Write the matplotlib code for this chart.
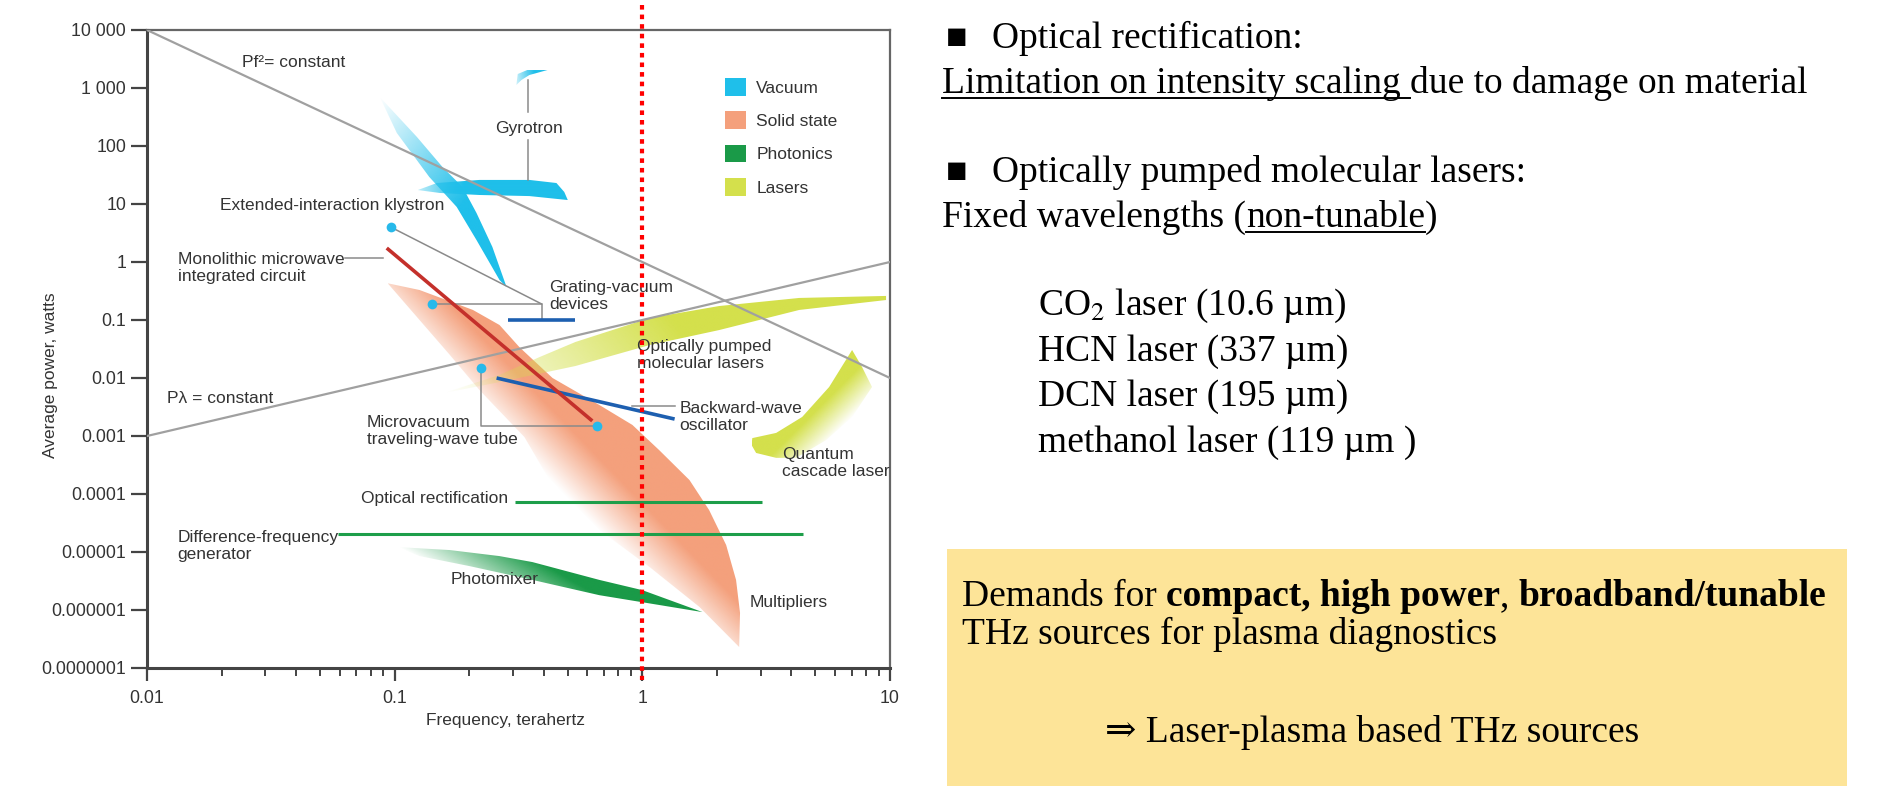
import numpy as np
import matplotlib
matplotlib.use("Agg")
import matplotlib.pyplot as plt
from matplotlib.patches import Polygon, Patch, Rectangle
from matplotlib.lines import Line2D
from matplotlib.colors import to_rgb
from matplotlib.ticker import LogLocator, NullFormatter, NullLocator

plt.rcParams['font.family'] = ['Liberation Sans', 'DejaVu Sans']
plt.rcParams['mathtext.fontset'] = 'stix'

# ---- axis ticks
xtick_vals = [0.01, 0.1, 1, 10]
xtick_labels = ["0.01", "0.1", "1", "10"]
ytick_vals = [1e4, 1e3, 1e2, 1e1, 1, 0.1, 0.01, 1e-3, 1e-4, 1e-5, 1e-6, 1e-7]
ytick_labels = ["10 000", "1 000", "100", "10", "1", "0.1", "0.01", "0.001",
                "0.0001", "0.00001", "0.000001", "0.0000001"]

# ---- reference lines (frequency THz, power W)
pf2_f = [0.01, 10]
pf2_p = [10000, 0.01]
plam_f = [0.01, 10]
plam_p = [0.001, 1]

# ---- source regions (polygons)
gyro_f = [0.124, 0.148, 0.220, 0.350, 0.450, 0.484, 0.500, 0.350, 0.220, 0.152]
gyro_p = [17.4, 23, 26, 26, 23, 16.1, 11.7, 13.7, 14.3, 15.5]
gyro_top_f = [0.310, 0.314, 0.343, 0.414, 0.350, 0.325]
gyro_top_p = [1127, 1742, 2042, 2042, 1675, 1374]
blade_f = [0.0871, 0.123, 0.156, 0.188, 0.214, 0.248, 0.283, 0.265, 0.214, 0.178, 0.138, 0.102]
blade_p = [700, 143, 43.4, 19.6, 7.0, 1.82, 0.37, 0.49, 2.39, 8.9, 29.2, 168]
ss_f = [0.0937, 0.126, 0.207, 0.265, 0.319, 0.434, 0.671, 0.912, 1.17, 1.55, 1.86, 2.18,
        2.39, 2.48, 2.46, 1.70, 1.07, 0.671, 0.422, 0.334, 0.220, 0.167, 0.126]
ss_p = [0.43, 0.329, 0.149, 0.082, 0.034, 0.01, 0.00342, 0.00155, 5.7e-4, 1.74e-4, 5.3e-5,
        1.32e-5, 3.3e-6, 8.9e-7, 2.3e-7, 1.13e-6, 5.5e-6, 2.4e-5, 1.74e-4, 9.6e-4, 0.0062, 0.025, 0.1]
pm_f = [0.102, 0.167, 0.265, 0.360, 0.671, 1.0, 1.75, 1.17, 0.671, 0.360, 0.201, 0.126]
pm_p = [1.22e-5, 1.08e-5, 8.5e-6, 6.7e-6, 3.3e-6, 2.2e-6, 9.2e-7, 1.22e-6, 1.8e-6, 3.3e-6, 5.7e-6, 8.5e-6]
opml_f = [0.158, 0.265, 0.385, 0.537, 1.07, 2.04, 4.30, 9.64, 9.64, 4.30, 2.04, 1.07, 0.537, 0.265]
opml_p = [0.0055, 0.0113, 0.023, 0.0418, 0.108, 0.174, 0.24, 0.26, 0.221, 0.149, 0.067, 0.037, 0.0161, 0.0085]
qcl_f = [7.03, 7.71, 8.46, 7.03, 5.52, 4.18, 3.47, 2.88, 2.76, 2.78, 3.47, 4.42, 5.68]
qcl_p = [0.0304, 0.0155, 0.0070, 0.00213, 8.5e-4, 4.2e-4, 4.2e-4, 5.1e-4, 7.0e-4, 9.2e-4, 0.00113, 0.00213, 0.0070]

# ---- device lines
mmic_f = [0.0929, 0.628]
mmic_p = [1.74, 0.00182]
bwo_f = [0.258, 1.35]
bwo_p = [0.01, 0.00196]
grating_f = [0.286, 0.537]
grating_p = [0.1, 0.1]
optrect_f = [0.305, 3.05]
optrect_p = [7.3e-5, 7.3e-5]
dfg_f = [0.0589, 4.46]
dfg_p = [2.04e-5, 2.04e-5]
dot_f = [0.0964, 0.141, 0.224, 0.659]
dot_p = [4.0, 0.189, 0.0149, 0.00149]
redline_f = [1, 1]
redline_p = [2.7e4, 6.2e-8]

# leader lines
leaders = [
    ([0.0964, 0.392], [4.0, 0.189]),
    ([0.141, 0.392, 0.392], [0.189, 0.189, 0.1]),
    ([0.0628, 0.0895], [1.17, 1.17]),
    ([0.224, 0.224, 0.659], [0.0149, 0.00149, 0.00149]),
    ([0.912, 1.35], [0.0033, 0.0033]),
    ([0.347, 0.347], [1374, 385]),
    ([0.347, 0.347], [127, 26]),
]

labels = [
    ("Pf²= constant", 0.0242, 2700, 'left'),
    ("Pλ = constant", 0.01204, 0.00452, 'left'),
    ("Gyrotron", 0.35, 204, 'center'),
    ("Extended-interaction klystron", 0.0197, 9.6, 'left'),
    ("Monolithic microwave\nintegrated circuit", 0.0133, 0.79, 'left'),
    ("Grating-vacuum\ndevices", 0.422, 0.26, 'left'),
    ("Optically pumped\nmolecular lasers", 0.955, 0.025, 'left'),
    ("Microvacuum\ntraveling-wave tube", 0.077, 0.00122, 'left'),
    ("Backward-wave\noscillator", 1.41, 0.00213, 'left'),
    ("Quantum\ncascade laser", 3.67, 3.4e-4, 'left'),
    ("Optical rectification", 0.286, 8.5e-5, 'right'),
    ("Difference-frequency\ngenerator", 0.0133, 1.27e-5, 'left'),
    ("Photomixer", 0.253, 3.3e-6, 'center'),
    ("Multipliers", 2.70, 1.37e-6, 'left'),
]

legend_names = ["Vacuum", "Solid state", "Photonics", "Lasers"]
legend_colors = ["#1fbfea", "#f4a07c", "#1a9a48", "#d4e04c"]
c_vac, c_ss, c_ph, c_las = legend_colors

W, H = 1883, 786
fig = plt.figure(figsize=(W / 100, H / 100), dpi=100)
ax = fig.add_axes([147 / W, 118 / H, 743 / W, 638 / H])
ax.set_xscale('log')
ax.set_yscale('log')
ax.set_xlim(0.01, 10)
ax.set_ylim(1e-7, 1e4)
ax.set_autoscale_on(False)


def shade(fs, ps, color, angle, a_lo=0.0, a_hi=1.0, reach=1.0, z=1):
    # polygon filled with an alpha ramp along a direction (degrees, screen space)
    verts = np.column_stack([fs, ps])
    patch = Polygon(verts, closed=True, fc='none', ec='none', transform=ax.transData)
    ax.add_patch(patch)
    pix = ax.transData.transform(verts)
    bb = ax.bbox
    x0, y0 = pix.min(0)
    x1, y1 = pix.max(0)
    gx, gy = np.meshgrid(np.linspace(x0, x1, 300), np.linspace(y0, y1, 300))
    d = np.array([np.cos(np.radians(angle)), np.sin(np.radians(angle))])
    proj = pix @ d
    t = (gx * d[0] + gy * d[1] - proj.min()) / (proj.max() - proj.min())
    a = a_lo + (a_hi - a_lo) * np.clip(t / reach, 0, 1)
    rgba = np.zeros((300, 300, 4))
    rgba[..., :3] = to_rgb(color)
    rgba[..., 3] = a
    ext = [(x0 - bb.x0) / bb.width, (x1 - bb.x0) / bb.width,
           (y0 - bb.y0) / bb.height, (y1 - bb.y0) / bb.height]
    im = ax.imshow(rgba, extent=ext, origin='lower', transform=ax.transAxes,
                   aspect='auto', interpolation='bilinear', zorder=z)
    im.set_clip_path(patch)


shade(ss_f, ss_p, c_ss, 44, reach=0.5, z=1)
shade(blade_f, blade_p, c_vac, -40, reach=0.6, z=1.2)
shade(gyro_f, gyro_p, c_vac, 0, a_lo=0.3, reach=0.3, z=1.3)
shade(gyro_top_f, gyro_top_p, c_vac, 10, a_lo=0.2, reach=0.6, z=1.3)
shade(opml_f, opml_p, c_las, 40, reach=0.55, z=1.1)
shade(qcl_f, qcl_p, c_las, 135, reach=0.55, z=1.1)
shade(pm_f, pm_p, c_ph, 60, reach=0.6, z=1.1)

ax.plot(pf2_f, pf2_p, color='#a0a0a0', lw=1.6, zorder=3)
ax.plot(plam_f, plam_p, color='#a0a0a0', lw=1.6, zorder=3)

for lf, lp in leaders:
    ax.plot(lf, lp, color='#8a8a8a', lw=1.1, zorder=4)

ax.plot(grating_f, grating_p, color='#1d5fb0', lw=2.6, solid_capstyle='butt', zorder=5)
ax.plot(bwo_f, bwo_p, color='#1d5fb0', lw=2.6, solid_capstyle='butt', zorder=5)
ax.plot(optrect_f, optrect_p, color='#1e9e4a', lw=2.2, solid_capstyle='butt', zorder=5)
ax.plot(dfg_f, dfg_p, color='#1e9e4a', lw=2.2, solid_capstyle='butt', zorder=5)
ax.plot(mmic_f, mmic_p, color='#c4302b', lw=2.6, solid_capstyle='butt', zorder=5.5)
ax.plot(dot_f, dot_p, 'o', color='#27b9ea', ms=7, mec='none', zorder=6)

for txt, f, p, ha in labels:
    ax.text(f, p, txt, ha=ha, va='center', fontsize=12.5, color='#333333',
            linespacing=1.15, zorder=7)

ax.plot(redline_f, redline_p, color='#ff0000', lw=3, ls=(0, (1.1, 1.2)),
        clip_on=False, zorder=10)

ax.legend([Patch(facecolor=c, edgecolor='none') for c in legend_colors], legend_names,
          loc='upper left', bbox_to_anchor=(0.778, 0.925), frameon=False, fontsize=12.5,
          handlelength=1.2, handleheight=1.2, handletextpad=0.6, labelspacing=0.9,
          borderaxespad=0, borderpad=0, labelcolor='#333333')

ax.set_xticks(xtick_vals, xtick_labels)
ax.xaxis.set_minor_locator(LogLocator(base=10, subs=range(2, 10)))
ax.xaxis.set_minor_formatter(NullFormatter())
ax.set_yticks(ytick_vals, ytick_labels)
ax.yaxis.set_minor_locator(NullLocator())
ax.tick_params(axis='x', which='major', length=9.5, width=1.6, pad=6, labelsize=12.8,
               color='#444444', labelcolor='#333333')
ax.tick_params(axis='x', which='minor', length=6, width=1.4, color='#444444')
ax.tick_params(axis='y', which='major', length=11.5, width=1.6, pad=3.5, labelsize=12.8,
               color='#444444', labelcolor='#333333')
for s in ['left', 'bottom']:
    ax.spines[s].set_color('#444444')
    ax.spines[s].set_linewidth(2.2)
for s in ['top', 'right']:
    ax.spines[s].set_color('#666666')
    ax.spines[s].set_linewidth(1.6)
ax.set_xlabel("Frequency, terahertz", fontsize=12.5, color='#333333')
ax.set_ylabel("Average power, watts", fontsize=12.5, color='#333333')
ax.xaxis.set_label_coords(0.482, -0.071)
ax.yaxis.set_label_coords(-0.12, 0.459)
ax.set_xlim(0.01, 10)
ax.set_ylim(1e-7, 1e4)

# ---- right-hand notes
serif = ['Liberation Serif', 'DejaVu Serif']
fsz = 27
fig.patches.append(Rectangle((947 / W, 0), (1847 - 947) / W, (786 - 549) / H,
                             transform=fig.transFigure, facecolor='#fde498',
                             edgecolor='none', zorder=0))
r = fig.canvas.get_renderer()


def width_of(s, weight='normal'):
    t = fig.text(0, 0, s, family=serif, fontsize=fsz, fontweight=weight)
    w = t.get_window_extent(renderer=r).width
    t.remove()
    return w


def rich(x, y, parts):
    for s, bold, ul in parts:
        core = s.rstrip(' ')
        n_sp = len(s) - len(core)
        fw = 'bold' if bold else 'normal'
        t = fig.text(x / W, 1 - y / H, core, family=serif, fontsize=fsz, fontweight=fw,
                     va='baseline', ha='left')
        w = t.get_window_extent(renderer=r).width
        if n_sp:
            w += n_sp * (width_of('a a', fw) - width_of('aa', fw))
        if ul:
            fig.add_artist(Line2D([x / W, (x + w) / W], [1 - (y + 5) / H] * 2,
                                  transform=fig.transFigure, color='black', lw=1.4))
        x += w


def bullet(y, s):
    fig.text(946 / W, 1 - y / H, "■", family=serif, fontsize=fsz * 0.95,
             va='baseline', ha='left')
    rich(992, y, [(s, False, False)])


bullet(48, "Optical rectification:")
rich(942, 93, [("Limitation on intensity scaling ", False, True),
               ("due to damage on material", False, False)])
bullet(182, "Optically pumped molecular lasers:")
rich(942, 227, [("Fixed wavelengths (", False, False), ("non-tunable", False, True),
                (")", False, False)])
laser_lines = ["CO$_2$ laser (10.6 µm)", "HCN laser (337 µm)", "DCN laser (195 µm)",
               "methanol laser (119 µm )"]
for i, s in enumerate(laser_lines):
    fig.text(1038 / W, 1 - (315 + 45.5 * i) / H, s, family=serif, fontsize=fsz,
             va='baseline', ha='left')
rich(962, 606, [("Demands for ", False, False), ("compact, high power", True, False),
                (", ", False, False), ("broadband/tunable", True, False)])
rich(962, 644, [("THz sources for plasma diagnostics", False, False)])
rich(1105, 742, [("⇒ Laser-plasma based THz sources", False, False)])

fig.savefig("out.png", dpi=100, facecolor='white')
